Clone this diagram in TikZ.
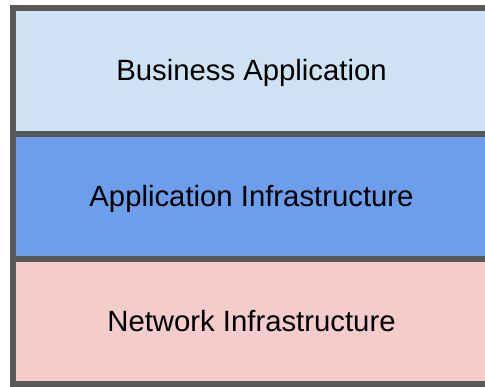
\documentclass[tikz,border=0pt]{standalone}
\usepackage{fontspec}
\setmainfont{Liberation Sans}
\definecolor{bizblue}{HTML}{CFE2F3}
\definecolor{appblue}{HTML}{6D9EEB}
\definecolor{netpink}{HTML}{F4CCCC}
\definecolor{edgegray}{HTML}{595959}
\begin{document}
\begin{tikzpicture}[x=1pt,y=-1pt,
  layer/.style={draw=edgegray,line width=6pt,minimum width=477pt,minimum height=125.5pt,anchor=north west,inner sep=0pt,outer sep=0pt,text height=19.5pt,text depth=0pt,font=\fontsize{29.3}{35}\selectfont,text=black}]
\useasboundingbox (0,0) rectangle (485,386);
\node[layer,fill=bizblue] (biz) at (13,8) {Business Application};
\node[layer,fill=appblue] (app) at (13,133.5) {Application Infrastructure};
\node[layer,fill=netpink] (net) at (13,258.5) {Network Infrastructure};
\end{tikzpicture}
\end{document}
